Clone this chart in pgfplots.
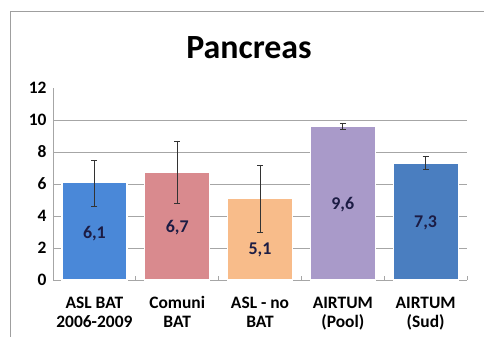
\documentclass[border=0pt]{standalone}
\usepackage{pgfplots}
\pgfplotsset{compat=1.18}
\usepackage{fontspec}
\setmainfont{Carlito}
\definecolor{c1}{HTML}{4A88D8}
\definecolor{c2}{HTML}{D98A8E}
\definecolor{c3}{HTML}{F8BC8A}
\definecolor{c4}{HTML}{A99AC9}
\definecolor{c5}{HTML}{4A7EC0}
\definecolor{lab}{HTML}{1C1C44}
\definecolor{gridc}{HTML}{A6A6A6}
\begin{document}
\begin{tikzpicture}[x=1bp,y=1bp]
\path[use as bounding box] (-53,-56) rectangle (431,280);
\draw[gray!75, line width=0.8bp] (-43,-60) -- (-43,269) -- (440,269);
\node[anchor=base, font=\bfseries\fontsize{34}{38}\selectfont] at (196,222) {Pancreas};
\begin{axis}[
  at={(0,0)}, anchor=south west,
  scale only axis, width=414bp, height=192bp,
  xmin=-0.5, xmax=4.5, ymin=0, ymax=12,
  axis x line*=bottom, axis y line*=left,
  axis line style={gridc, line width=0.8bp},
  ytick={0,2,...,12},
  extra y ticks={2,4,...,10},
  extra y tick labels={},
  extra y tick style={grid=major, major grid style={gridc, line width=0.6bp}, major tick length=0pt},
  xtick={0,...,4},
  xticklabels={},
  extra x ticks={0.5,1.5,2.5,3.5,4.5},
  extra x tick labels={},
  extra x tick style={major tick length=4bp, tick style={gridc, line width=0.7bp}},
  major tick length=0pt,
  ytick style={gridc, line width=0.7bp},
  yticklabel style={font=\bfseries\fontsize{17.5}{19}\selectfont, xshift=-3bp},
  /pgf/number format/assume math mode=true,
  clip=false,
]
\addplot[ybar, bar width=0.785, fill=c1, draw=white, line width=1.2bp,
  error bars/.cd, y dir=both, y explicit, error bar style={black!80, line width=0.8bp}, error mark options={rotate=90, mark size=3bp, black!80}]
  coordinates {(0,6.1) += (0,1.4) -= (0,1.5)};
\addplot[ybar, bar width=0.785, fill=c2, draw=white, line width=1.2bp,
  error bars/.cd, y dir=both, y explicit, error bar style={black!80, line width=0.8bp}, error mark options={rotate=90, mark size=3bp, black!80}]
  coordinates {(1,6.7) += (0,2.0) -= (0,1.9)};
\addplot[ybar, bar width=0.785, fill=c3, draw=white, line width=1.2bp,
  error bars/.cd, y dir=both, y explicit, error bar style={black!80, line width=0.8bp}, error mark options={rotate=90, mark size=3bp, black!80}]
  coordinates {(2,5.1) += (0,2.1) -= (0,2.1)};
\addplot[ybar, bar width=0.785, fill=c4, draw=white, line width=1.2bp,
  error bars/.cd, y dir=both, y explicit, error bar style={black!80, line width=0.8bp}, error mark options={rotate=90, mark size=3bp, black!80}]
  coordinates {(3,9.6) += (0,0.2) -= (0,0.2)};
\addplot[ybar, bar width=0.785, fill=c5, draw=white, line width=1.2bp,
  error bars/.cd, y dir=both, y explicit, error bar style={black!80, line width=0.8bp}, error mark options={rotate=90, mark size=3bp, black!80}]
  coordinates {(4,7.3) += (0,0.45) -= (0,0.4)};
\begin{scope}[every node/.style={font=\bfseries\fontsize{18}{20}\selectfont, text=lab}]
\node at (axis cs:0,2.9) {6,1};
\node at (axis cs:1,3.25) {6,7};
\node at (axis cs:2,1.9) {5,1};
\node at (axis cs:3,4.7) {9,6};
\node at (axis cs:4,3.55) {7,3};
\end{scope}
\begin{scope}[every node/.style={font=\bfseries\fontsize{17.5}{19}\selectfont, align=center, anchor=base}]
\node at (axis cs:0,0) [yshift=-47bp] {ASL BAT\\2006-2009};
\node at (axis cs:1,0) [yshift=-47bp] {Comuni\\BAT};
\node at (axis cs:2,0) [yshift=-47bp] {ASL - no\\BAT};
\node at (axis cs:3,0) [yshift=-47bp] {AIRTUM\\(Pool)};
\node at (axis cs:4,0) [yshift=-47bp] {AIRTUM\\(Sud)};
\end{scope}
\end{axis}
\end{tikzpicture}
\end{document}
